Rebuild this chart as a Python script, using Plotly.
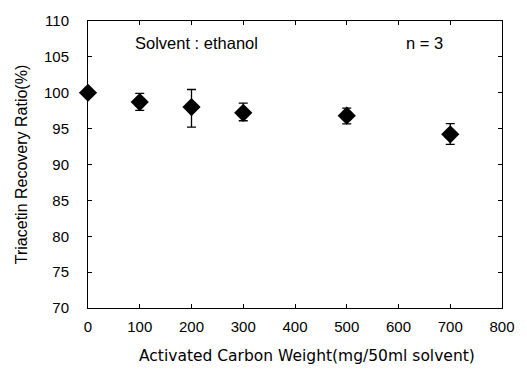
import plotly.graph_objects as go

weights = [0, 100, 200, 300, 500, 700]
recovery = [100.0, 98.7, 98.0, 97.2, 96.8, 94.2]
err_plus = [0.0, 1.2, 2.45, 1.35, 1.05, 1.5]
err_minus = [0.0, 1.15, 2.8, 1.1, 1.15, 1.4]

fig = go.Figure()
fig.add_trace(go.Scatter(
    x=weights, y=recovery, mode="markers",
    marker=dict(symbol="diamond", size=14, color="black"),
    error_y=dict(type="data", symmetric=False, array=err_plus, arrayminus=err_minus,
                 color="black", thickness=1.3, width=4.5),
    cliponaxis=False, showlegend=False,
))

fam = "Liberation Sans, Arial, sans-serif"
fig.update_layout(
    width=527, height=374,
    margin=dict(l=88, r=20, t=12, b=66),
    plot_bgcolor="white", paper_bgcolor="white",
    font=dict(size=15, family=fam, color="black"),
    xaxis=dict(range=[0, 800], tickvals=[0, 100, 200, 300, 400, 500, 600, 700, 800],
               ticks="inside", ticklen=4, tickcolor="black", showline=True, linecolor="black",
               linewidth=1, mirror="allticks", showgrid=False, zeroline=False,
               ticklabelstandoff=5),
    yaxis=dict(range=[70, 110], tickvals=list(range(70, 111, 5)),
               ticks="inside", ticklen=4, tickcolor="black", showline=True, linecolor="black",
               linewidth=1, mirror="allticks", showgrid=False, zeroline=False,
               ticklabelstandoff=15,
               title=dict(text="Triacetin Recovery Ratio(%)", font=dict(size=16), standoff=12)),
    annotations=[
        dict(x=86, y=107.0, xref="x", yref="y", text="Solvent : ethanol", showarrow=False,
             xanchor="left", yanchor="middle", font=dict(size=16.5)),
        dict(x=611, y=107.0, xref="x", yref="y", text="n = 3", showarrow=False,
             xanchor="left", yanchor="middle", font=dict(size=16.5)),
        dict(x=0.53, y=-0.168, xref="paper", yref="paper",
             text="Activated Carbon Weight(mg/50ml solvent)", showarrow=False,
             xanchor="center", yanchor="middle",
             font=dict(size=15.5, family="DejaVu Sans, sans-serif")),
    ],
)
fig.write_html("out.html")
